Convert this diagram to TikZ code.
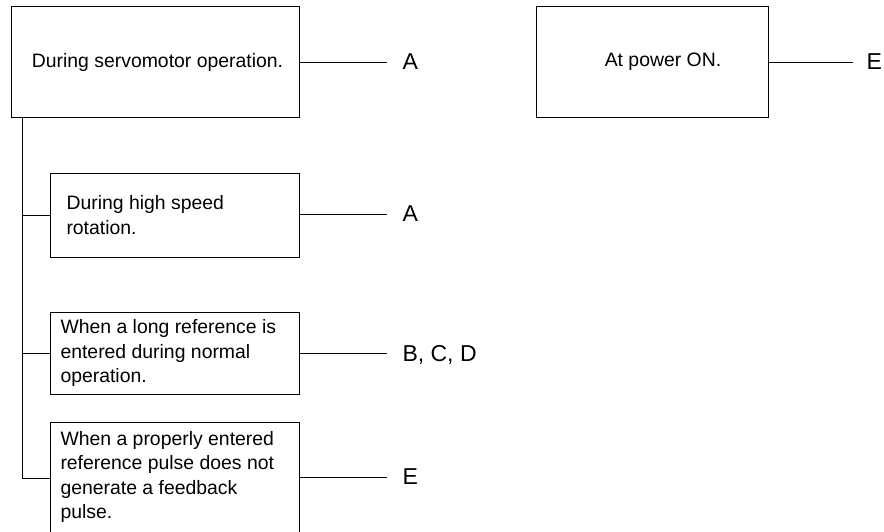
\documentclass[tikz,border=0pt]{standalone}
\usepackage{fontspec}
\setmainfont{Liberation Sans}
\begin{document}
\begin{tikzpicture}[x=1pt,y=-1pt,line width=1pt,
  box/.style={draw, rectangle, anchor=north west, inner sep=0pt},
  txt/.style={font=\fontsize{19.4}{24.3}\selectfont, align=left, inner sep=0pt},
  lbl/.style={font=\fontsize{23}{27}\selectfont, anchor=west, inner sep=0pt, text depth=0pt},
  conn/.style={shorten >=15pt}]
\useasboundingbox (0,0) rectangle (884,531);
% boxes
\node[box, minimum width=288, minimum height=111] (b1) at (11,6) {};
\node[box, minimum width=249, minimum height=84] (b2) at (50,173) {};
\node[box, minimum width=249, minimum height=82] (b3) at (50,312) {};
\node[box, minimum width=249, minimum height=112] (b4) at (50,422) {};
\node[box, minimum width=232, minimum height=111] (b5) at (536,6) {};
% texts
\node[txt] (t1) at (157.5,62) {During servomotor operation.};
\node[txt, anchor=west] (t2) at (66,215) {During high speed\\rotation.};
\node[txt, anchor=west] (t3) at (60,353) {When a long reference is\\entered during normal\\operation.};
\node[txt, anchor=west] (t4) at (60,477) {When a properly entered\\reference pulse does not\\generate a feedback\\pulse.};
\node[txt] (t5) at (663,62) {At power ON.};
% labels
\node[lbl] (l1) at (402,62) {A};
\node[lbl] (l2) at (402,214) {A};
\node[lbl] (l3) at (402,353) {B, C, D};
\node[lbl] (l4) at (402,477) {E};
\node[lbl] (l5) at (866,62) {E};
% connectors
\draw[conn] (b1.east |- l1.west) -- (l1.west);
\draw[conn] (b2.east |- l2.west) -- (l2.west);
\draw[conn] (b3.east |- l3.west) -- (l3.west);
\draw[conn] (b4.east |- l4.west) -- (l4.west);
\draw[conn, shorten >=13pt] (b5.east |- l5.west) -- (l5.west);
% trunk
\draw ([xshift=11pt]b1.south west) |- (b4.west);
\draw (b2.west) -- ++(-28,0);
\draw (b3.west) -- ++(-28,0);
\end{tikzpicture}
\end{document}
